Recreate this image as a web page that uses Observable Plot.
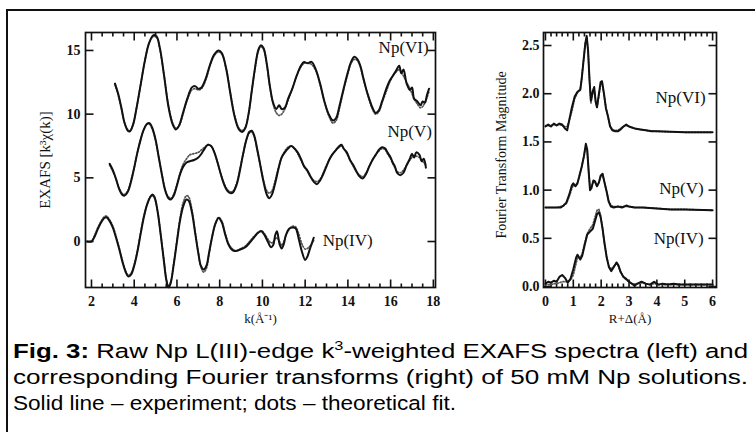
<!DOCTYPE html>
<html>
<head>
<meta charset="utf-8">
<script src="https://cdn.jsdelivr.net/npm/d3@7"></script>
<script src="https://cdn.jsdelivr.net/npm/@observablehq/plot@0.6"></script>
<style>
  html, body { margin: 0; padding: 0; background: #fff; }
  #page { position: relative; width: 755px; height: 432px; overflow: hidden; background: #fff; }
  #topline { position: absolute; left: 6px; top: 9px; width: 749px; height: 2px; background: #111; }
  #leftline { position: absolute; left: 6px; top: 9px; width: 2px; height: 423px; background: #111; }
  #left { position: absolute; left: 0; top: 0; }
  #right { position: absolute; left: 460px; top: 0; }
  #caption { position: absolute; left: 13px; top: 338px; font-family: "Liberation Sans", Arial, sans-serif; font-size: 20.5px; line-height: 26px; color: #000; }
  #caption div { white-space: nowrap; transform-origin: 0 0; width: max-content; }
  sup { font-size: 13px; line-height: 0; vertical-align: 8px; }
</style>
</head>
<body>
<div id="page">
  <div id="topline"></div>
  <div id="leftline"></div>
  <div id="left"></div>
  <div id="right"></div>
  <div id="caption">
    <div data-w="735"><b>Fig. 3:</b> Raw Np L(III)-edge k<sup>3</sup>-weighted EXAFS spectra (left) and</div>
    <div data-w="735">corresponding Fourier transforms (right) of 50 mM Np solutions.</div>
    <div data-w="443">Solid line – experiment; dots – theoretical fit.</div>
  </div>
</div>
<script>
// ---------- EXAFS (left panel) ----------
const kVI = [3.1,3.25,3.4,3.55,3.7,3.8,3.95,4.1,4.3,4.5,4.7,4.9,5.05,5.2,5.4,5.6,5.8,5.95,6.1,6.3,6.5,6.7,6.85,7.0,7.15,7.35,7.55,7.75,7.95,8.1,8.3,8.5,8.7,8.9,9.05,9.2,9.35,9.5,9.65,9.8,9.92,10.05,10.2,10.35,10.5,10.65,10.78,10.9,11.05,11.2,11.4,11.6,11.8,11.95,12.1,12.3,12.5,12.7,12.9,13.1,13.3,13.45,13.6,13.8,14.0,14.15,14.3,14.45,14.6,14.7,14.85,15.0,15.15,15.3,15.45,15.6,15.8,15.95,16.1,16.25,16.4,16.5,16.6,16.75,16.9,17.0,17.1,17.25,17.4,17.5,17.6,17.7,17.8];
const expVI = [12.4,11.6,10.5,9.3,8.7,8.65,9.2,10.4,12.3,14.2,15.6,16.2,16.1,15.2,13.0,10.6,9.2,8.8,9.1,10.2,11.3,12.1,12.2,12.0,12.1,12.8,13.9,14.7,15.0,14.8,13.6,11.6,9.8,8.8,8.6,8.9,10.0,11.8,13.6,15.0,15.4,15.2,14.0,12.2,10.9,10.4,10.7,10.4,10.5,11.2,12.0,13.0,13.8,14.1,14.0,14.1,13.5,12.4,11.0,10.0,9.5,9.7,10.6,12.0,13.3,14.1,14.5,14.3,13.7,13.0,12.0,11.2,10.5,10.1,10.3,11.0,12.0,12.6,13.0,13.4,13.8,13.2,13.5,12.4,11.9,12.1,11.2,11.0,10.7,11.0,10.9,11.5,12.0];
const fitVI = [12.3,11.5,10.4,9.3,8.8,8.7,9.2,10.4,12.3,14.2,15.6,16.1,16.0,15.1,13.0,10.7,9.3,8.9,9.1,10.1,11.2,11.9,12.0,11.9,12.0,12.7,13.8,14.6,14.9,14.7,13.6,11.7,9.9,8.9,8.7,9.0,10.0,11.8,13.5,14.9,15.3,15.1,13.9,12.1,10.8,10.1,9.9,10.0,10.4,11.1,12.0,13.0,13.7,14.0,14.0,13.9,13.4,12.3,11.0,9.9,9.3,9.5,10.4,11.9,13.2,14.0,14.3,14.2,13.6,12.9,12.0,11.1,10.4,10.0,10.2,10.9,11.8,12.5,13.0,13.3,13.5,13.3,13.0,12.5,12.0,11.6,11.2,10.8,10.5,10.6,10.9,11.3,11.8];

const kV = [2.85,3.0,3.15,3.3,3.45,3.55,3.7,3.85,4.0,4.15,4.3,4.45,4.6,4.72,4.85,5.0,5.15,5.3,5.45,5.6,5.72,5.85,6.0,6.15,6.3,6.45,6.6,6.8,7.0,7.15,7.3,7.45,7.6,7.75,7.9,8.05,8.2,8.35,8.5,8.62,8.8,8.95,9.1,9.25,9.38,9.5,9.62,9.75,9.9,10.05,10.2,10.32,10.45,10.6,10.75,10.9,11.05,11.2,11.35,11.5,11.65,11.8,11.95,12.1,12.25,12.4,12.55,12.7,12.85,13.0,13.15,13.3,13.45,13.6,13.7,13.8,13.95,14.1,14.25,14.4,14.55,14.7,14.85,15.0,15.15,15.3,15.45,15.6,15.75,15.85,16.0,16.1,16.2,16.3,16.45,16.6,16.75,16.9,17.0,17.1,17.2,17.35,17.45,17.55,17.65];
const expV = [6.1,5.6,4.9,4.1,3.65,3.6,3.9,4.7,5.8,7.0,8.0,8.8,9.25,9.3,8.9,8.0,6.6,5.2,4.0,3.4,3.3,3.6,4.4,5.3,5.9,6.2,6.3,6.4,6.6,6.9,7.3,7.6,7.5,7.0,6.2,5.3,4.5,4.0,3.8,3.85,4.5,5.6,6.9,8.0,8.6,8.7,8.3,7.3,6.0,4.7,3.7,3.4,3.7,4.6,5.7,6.6,7.0,7.3,7.5,7.3,7.0,6.5,5.9,5.6,5.1,4.7,4.5,4.8,5.3,5.9,6.5,6.9,7.2,7.5,7.6,7.3,7.0,6.4,6.0,5.5,5.1,4.95,5.3,5.9,6.4,6.8,7.2,7.4,7.3,7.0,6.6,6.2,5.9,5.4,5.2,5.4,6.0,6.5,6.9,6.6,7.0,6.8,6.3,6.5,5.8];
const fitV = [6.0,5.5,4.9,4.2,3.75,3.7,4.0,4.8,5.8,7.0,8.0,8.8,9.2,9.2,8.8,7.9,6.6,5.3,4.1,3.5,3.4,3.7,4.5,5.4,6.1,6.5,6.8,6.9,7.0,7.2,7.4,7.6,7.5,7.0,6.2,5.3,4.6,4.1,3.9,3.95,4.6,5.7,6.9,8.0,8.5,8.6,8.2,7.2,6.0,4.8,4.0,3.8,4.0,4.8,5.8,6.6,7.1,7.4,7.5,7.3,6.9,6.4,5.9,5.5,5.1,4.8,4.7,4.9,5.4,6.0,6.5,6.9,7.2,7.4,7.5,7.3,6.9,6.4,5.9,5.5,5.2,5.1,5.4,5.9,6.4,6.8,7.1,7.3,7.2,6.9,6.5,6.1,5.8,5.5,5.4,5.6,6.0,6.4,6.6,6.7,6.7,6.6,6.4,6.2,6.0];

const kIV = [1.8,2.0,2.15,2.3,2.45,2.6,2.7,2.85,3.0,3.15,3.3,3.45,3.6,3.72,3.85,4.0,4.15,4.3,4.45,4.6,4.75,4.85,4.95,5.1,5.25,5.4,5.5,5.6,5.7,5.85,6.0,6.15,6.3,6.45,6.55,6.7,6.85,7.0,7.12,7.25,7.38,7.5,7.65,7.8,7.95,8.1,8.25,8.4,8.55,8.7,8.85,9.0,9.2,9.4,9.6,9.8,9.95,10.1,10.25,10.4,10.5,10.6,10.68,10.8,10.9,11.0,11.1,11.25,11.4,11.55,11.7,11.85,12.0,12.1,12.2,12.3,12.4];
const expIV = [0.0,0.0,0.4,1.0,1.5,1.85,1.9,1.6,1.1,0.3,-0.6,-1.6,-2.4,-2.75,-2.6,-1.9,-0.8,0.6,1.9,2.9,3.5,3.7,3.5,2.3,0.4,-1.7,-3.0,-3.6,-3.3,-1.8,0.0,1.7,2.8,3.3,3.2,2.3,0.7,-0.9,-1.9,-2.2,-1.9,-0.9,0.4,1.4,1.85,1.5,0.6,-0.2,-0.6,-0.75,-0.7,-0.6,-0.45,-0.1,0.3,0.7,0.8,0.5,0.0,-0.45,-0.3,0.5,0.8,-0.2,-0.55,-0.2,0.5,1.0,1.1,1.05,0.2,-0.8,-1.45,-1.2,-0.7,-0.2,0.3];
const fitIV = [0.0,0.05,0.5,1.1,1.6,1.95,2.0,1.7,1.2,0.4,-0.5,-1.5,-2.3,-2.65,-2.5,-1.8,-0.7,0.7,2.0,2.9,3.5,3.6,3.4,2.3,0.4,-1.6,-2.9,-3.5,-3.2,-1.7,0.1,1.9,3.1,3.6,3.5,2.5,0.8,-0.9,-2.0,-2.4,-2.1,-1.0,0.4,1.4,1.9,1.6,0.7,-0.1,-0.5,-0.7,-0.7,-0.55,-0.35,0.0,0.4,0.7,0.85,0.6,0.2,-0.1,-0.05,0.2,0.3,0.0,-0.3,0.0,0.5,0.95,1.2,1.15,0.6,-0.2,-0.6,-0.55,-0.4,-0.2,0.1];

// ---------- Fourier transforms (right panel) ----------
const rVI = [0.0,0.1,0.2,0.3,0.4,0.5,0.6,0.7,0.78,0.85,0.95,1.05,1.15,1.25,1.3,1.37,1.43,1.48,1.53,1.58,1.63,1.7,1.75,1.8,1.85,1.92,1.98,2.03,2.1,2.17,2.25,2.32,2.4,2.5,2.6,2.7,2.8,2.9,3.0,3.1,3.2,3.4,3.6,3.8,4.0,4.5,5.0,5.5,6.0];
const ftExpVI = [1.66,1.68,1.66,1.69,1.67,1.69,1.68,1.64,1.62,1.72,1.86,1.97,2.02,2.04,2.15,2.35,2.52,2.6,2.45,2.15,1.93,2.03,2.07,1.92,1.86,2.0,2.12,2.13,2.0,1.85,1.76,1.66,1.62,1.61,1.61,1.63,1.66,1.68,1.66,1.65,1.64,1.63,1.62,1.61,1.61,1.605,1.6,1.6,1.6];
const ftFitVI = [1.67,1.67,1.67,1.68,1.68,1.68,1.67,1.66,1.66,1.72,1.82,1.95,2.01,2.05,2.16,2.36,2.52,2.58,2.44,2.16,1.9,2.0,2.04,1.93,1.85,1.98,2.1,2.12,2.0,1.86,1.75,1.67,1.63,1.62,1.62,1.64,1.66,1.67,1.66,1.65,1.64,1.63,1.62,1.615,1.61,1.605,1.6,1.6,1.6];

const rV = [0.0,0.2,0.4,0.55,0.65,0.75,0.85,0.95,1.0,1.08,1.15,1.22,1.3,1.38,1.45,1.5,1.55,1.6,1.65,1.72,1.78,1.85,1.92,1.98,2.05,2.12,2.2,2.27,2.35,2.45,2.6,2.75,2.9,3.0,3.2,3.5,4.0,4.5,5.0,6.0];
const ftExpV = [0.82,0.82,0.82,0.82,0.84,0.87,0.95,1.05,1.07,1.04,1.07,1.15,1.24,1.35,1.48,1.42,1.2,1.0,1.02,1.1,1.09,1.04,1.08,1.15,1.17,1.08,0.98,0.88,0.83,0.82,0.83,0.82,0.84,0.83,0.82,0.82,0.81,0.8,0.8,0.79];
const ftFitV = [0.82,0.82,0.82,0.83,0.84,0.86,0.93,1.02,1.05,1.05,1.08,1.15,1.24,1.35,1.46,1.4,1.2,1.03,1.03,1.09,1.08,1.04,1.08,1.14,1.16,1.08,0.98,0.89,0.84,0.83,0.83,0.83,0.83,0.83,0.82,0.82,0.81,0.8,0.8,0.79];

const rIV = [0.0,0.1,0.2,0.3,0.4,0.5,0.6,0.7,0.8,0.9,1.0,1.1,1.15,1.25,1.32,1.4,1.5,1.6,1.7,1.78,1.85,1.92,1.98,2.05,2.12,2.2,2.28,2.36,2.45,2.55,2.62,2.7,2.8,2.9,3.0,3.1,3.2,3.3,3.45,3.6,3.75,3.9,4.05,4.2,4.4,4.6,4.8,5.0,5.3,5.6,6.0];
const ftExpIV = [0.03,0.05,0.04,0.06,0.05,0.1,0.12,0.09,0.04,0.08,0.18,0.3,0.33,0.28,0.32,0.42,0.54,0.57,0.6,0.68,0.75,0.77,0.72,0.6,0.45,0.3,0.2,0.16,0.2,0.25,0.22,0.15,0.1,0.08,0.05,0.03,0.01,0.03,0.05,0.03,0.02,0.05,0.02,0.03,0.02,0.03,0.02,0.02,0.02,0.02,0.02];
const ftFitIV = [0.02,0.02,0.02,0.03,0.03,0.04,0.05,0.05,0.05,0.07,0.12,0.24,0.3,0.3,0.34,0.44,0.55,0.6,0.64,0.72,0.79,0.8,0.74,0.6,0.44,0.3,0.21,0.18,0.21,0.24,0.21,0.15,0.1,0.07,0.05,0.03,0.02,0.03,0.04,0.03,0.02,0.03,0.02,0.02,0.02,0.02,0.02,0.02,0.02,0.02,0.02];

// ---------- labels & ticks ----------
const exafsLabelsEnd = [
  {text: "Np(VI)", k: 17.78, y: 15.2},
  {text: "Np(V)", k: 17.93, y: 8.65}
];
const exafsLabelsStart = [
  {text: "Np(IV)", k: 12.82, y: 0.05}
];
const ftLabels = [
  {text: "Np(VI)", r: 5.75, y: 1.96},
  {text: "Np(V)", r: 5.68, y: 1.02},
  {text: "Np(IV)", r: 5.68, y: 0.5}
];
const kTicks = [2, 4, 6, 8, 10, 12, 14, 16, 18];
const exafsTicks = [0, 5, 10, 15];
const rTicks = [0, 1, 2, 3, 4, 5, 6];
const ftTicks = ["0.0", "0.5", "1.0", "1.5", "2.0", "2.5"];

function series(ks, ys) { return ks.map((k, i) => ({k, y: ys[i]})); }

const serif = "'Liberation Serif', 'Times New Roman', serif";

// inward frame ticks: short segments from the frame edge inward
function frameTicks({xDomain, yDomain, W, H, xMajor, xMinor, yMajor}) {
  const ux = (xDomain[1] - xDomain[0]) / W, uy = (yDomain[1] - yDomain[0]) / H;
  const maj = 8, min = 4;
  const segs = [];
  const addX = (vals, len) => vals.forEach(v => {
    segs.push({x1: v, x2: v, y1: yDomain[0], y2: yDomain[0] + len * uy});
    segs.push({x1: v, x2: v, y1: yDomain[1], y2: yDomain[1] - len * uy});
  });
  const addY = (vals, len) => vals.forEach(v => {
    segs.push({x1: xDomain[0], x2: xDomain[0] + len * ux, y1: v, y2: v});
    segs.push({x1: xDomain[1], x2: xDomain[1] - len * ux, y1: v, y2: v});
  });
  addX(xMajor, maj); addX(xMinor, min); addY(yMajor, maj);
  return Plot.link(segs, {x1: "x1", x2: "x2", y1: "y1", y2: "y2", stroke: "#111", strokeWidth: 1.6});
}

const dashed = {stroke: "#555", strokeWidth: 1.7, strokeDasharray: "1.2,1.8"};
const solid = {stroke: "#111", strokeWidth: 2};

// Left panel
const L = {left: 85, right: 435, top: 32, bottom: 287, width: 460, height: 335};
const LX = [1.72, 18.1], LY = [-3.61, 16.41];
const leftPlot = Plot.plot({
  width: L.width, height: L.height,
  marginLeft: L.left, marginRight: L.width - L.right, marginTop: L.top, marginBottom: L.height - L.bottom,
  style: {fontFamily: serif, fontSize: "14px", color: "#111", background: "transparent"},
  x: {domain: LX},
  y: {domain: LY},
  marks: [
    Plot.frame({stroke: "#111", strokeWidth: 1.7, fill: "none"}),
    frameTicks({xDomain: LX, yDomain: LY, W: L.right - L.left, H: L.bottom - L.top,
      xMajor: kTicks, xMinor: d3.range(2.5, 18, 0.5).filter(v => v % 2 !== 0), yMajor: exafsTicks}),
    Plot.axisX(kTicks, {tickSize: 0, tickPadding: 9, fontSize: 14, fontWeight: "bold", label: null}),
    Plot.axisY(exafsTicks, {tickSize: 0, tickPadding: 5, fontSize: 14, fontWeight: "bold", label: null}),
    Plot.line(series(kVI, fitVI), {x: "k", y: "y", ...dashed, curve: "catmull-rom"}),
    Plot.line(series(kV, fitV), {x: "k", y: "y", ...dashed, curve: "catmull-rom"}),
    Plot.line(series(kIV, fitIV), {x: "k", y: "y", ...dashed, curve: "catmull-rom"}),
    Plot.line(series(kVI, expVI), {x: "k", y: "y", ...solid, curve: "catmull-rom"}),
    Plot.line(series(kV, expV), {x: "k", y: "y", ...solid, curve: "catmull-rom"}),
    Plot.line(series(kIV, expIV), {x: "k", y: "y", ...solid, curve: "catmull-rom"}),
    Plot.text(exafsLabelsEnd, {x: "k", y: "y", text: "text", fontSize: 17, textAnchor: "end", fill: "#111"}),
    Plot.text(exafsLabelsStart, {x: "k", y: "y", text: "text", fontSize: 17, textAnchor: "start", fill: "#111"}),
    Plot.text(["k(Å⁻¹)"], {frameAnchor: "bottom", dy: 35, fontSize: 13, fill: "#111", textAnchor: "middle"}),
    Plot.text(["EXAFS [k³χ(k)]"], {frameAnchor: "left", textAnchor: "middle", rotate: -90, dx: -40, fontSize: 15, fill: "#111"})
  ]
});
document.getElementById("left").appendChild(leftPlot);

// Right panel
const R = {left: 83, right: 256, top: 32, bottom: 287, width: 295, height: 335};
const RX = [-0.07, 6.14], RY = [-0.01, 2.635];
const rightPlot = Plot.plot({
  width: R.width, height: R.height,
  marginLeft: R.left, marginRight: R.width - R.right, marginTop: R.top, marginBottom: R.height - R.bottom,
  style: {fontFamily: serif, fontSize: "14px", color: "#111", background: "transparent"},
  x: {domain: RX},
  y: {domain: RY},
  marks: [
    Plot.frame({stroke: "#111", strokeWidth: 1.7, fill: "none"}),
    frameTicks({xDomain: RX, yDomain: RY, W: R.right - R.left, H: R.bottom - R.top,
      xMajor: rTicks, xMinor: d3.range(0.2, 6, 0.2).filter(v => Math.abs(v - Math.round(v)) > 1e-6),
      yMajor: ftTicks.map(Number)}),
    Plot.axisX(rTicks, {tickSize: 0, tickPadding: 9, fontSize: 14, fontWeight: "bold", label: null}),
    Plot.axisY(ftTicks.map(Number), {tickSize: 0, tickPadding: 4, fontSize: 14, fontWeight: "bold", label: null, tickFormat: d => d.toFixed(1)}),
    Plot.line(series(rVI, ftFitVI), {x: "k", y: "y", ...dashed}),
    Plot.line(series(rV, ftFitV), {x: "k", y: "y", ...dashed}),
    Plot.line(series(rIV, ftFitIV), {x: "k", y: "y", ...dashed}),
    Plot.line(series(rVI, ftExpVI), {x: "k", y: "y", ...solid}),
    Plot.line(series(rV, ftExpV), {x: "k", y: "y", ...solid}),
    Plot.line(series(rIV, ftExpIV), {x: "k", y: "y", ...solid}),
    Plot.text(ftLabels, {x: "r", y: "y", text: "text", fontSize: 17, textAnchor: "end", fill: "#111"}),
    Plot.text(["R+Δ(Å)"], {frameAnchor: "bottom", dy: 35, fontSize: 13, fill: "#111", textAnchor: "middle"}),
    Plot.text(["Fourier Transform Magnitude"], {frameAnchor: "left", textAnchor: "middle", rotate: -90, dx: -42, dy: -5, fontSize: 14, fill: "#111"})
  ]
});
document.getElementById("right").appendChild(rightPlot);

// Fit caption lines to the reference widths
document.querySelectorAll("#caption div").forEach(el => {
  const w = el.getBoundingClientRect().width;
  const target = +el.dataset.w;
  if (w > 0) el.style.transform = `scaleX(${target / w})`;
});
</script>
</body>
</html>
